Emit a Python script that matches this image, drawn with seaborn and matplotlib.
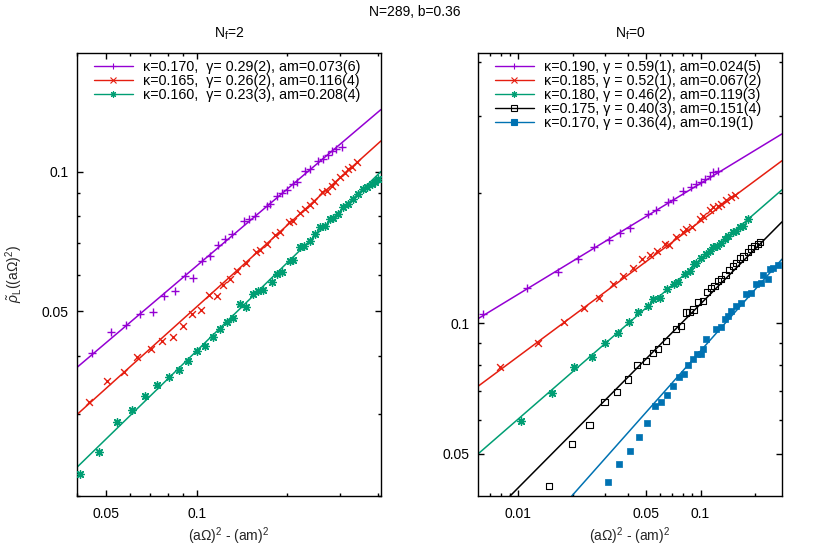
import numpy as np
import pandas as pd
import seaborn as sns
import matplotlib.pyplot as plt
from matplotlib.lines import Line2D
from matplotlib.ticker import NullFormatter

# ---- data ----
# N_f = 2
nf2_labels = ["κ=0.170,  γ= 0.29(2), am=0.073(6)",
              "κ=0.165,  γ= 0.26(2), am=0.116(4)",
              "κ=0.160,  γ= 0.23(3), am=0.208(4)"]

nf2_k170_x = [0.0448, 0.0520, 0.0583, 0.0648, 0.0716, 0.0779, 0.0847, 0.0915, 0.0974, 0.1044,
              0.1107, 0.1180, 0.1241, 0.1307, 0.1439, 0.1495, 0.1561, 0.1707, 0.1751, 0.1843,
              0.1915, 0.1989, 0.2083, 0.2148, 0.2288, 0.2377, 0.2533, 0.2632, 0.2734, 0.2805,
              0.2899, 0.3028]
nf2_k170_y = [0.0406, 0.0452, 0.0468, 0.0493, 0.0497, 0.0540, 0.0554, 0.0596, 0.0590, 0.0643,
              0.0659, 0.0694, 0.0715, 0.0733, 0.0781, 0.0792, 0.0800, 0.0843, 0.0850, 0.0886,
              0.0898, 0.0913, 0.0939, 0.0947, 0.1003, 0.1011, 0.1054, 0.1066, 0.1084, 0.1107,
              0.1117, 0.1132]

nf2_k165_x = [0.0437, 0.0503, 0.0571, 0.0635, 0.0704, 0.0769, 0.0832, 0.0899, 0.0963, 0.1031,
              0.1101, 0.1165, 0.1225, 0.1290, 0.1364, 0.1458, 0.1573, 0.1622, 0.1707, 0.1824,
              0.1890, 0.2030, 0.2093, 0.2202, 0.2288, 0.2377, 0.2451, 0.2599, 0.2701, 0.2805,
              0.2877, 0.2989, 0.3105, 0.3184, 0.3268, 0.3396]
nf2_k165_y = [0.0319, 0.0354, 0.0370, 0.0398, 0.0415, 0.0431, 0.0440, 0.0464, 0.0493, 0.0503,
              0.0543, 0.0540, 0.0570, 0.0587, 0.0611, 0.0635, 0.0670, 0.0677, 0.0698, 0.0730,
              0.0742, 0.0777, 0.0783, 0.0812, 0.0830, 0.0849, 0.0863, 0.0904, 0.0909, 0.0931,
              0.0947, 0.0971, 0.0995, 0.1011, 0.1023, 0.1046]

nf2_k160_x = [0.0408, 0.0473, 0.0543, 0.0608, 0.0674, 0.0740, 0.0809, 0.0874, 0.0938, 0.1005,
              0.1065, 0.1135, 0.1195, 0.1258, 0.1323, 0.1392, 0.1458, 0.1541, 0.1601, 0.1663,
              0.1774, 0.1843, 0.1915, 0.2040, 0.2093, 0.2202, 0.2271, 0.2377, 0.2470, 0.2566,
              0.2666, 0.2770, 0.2841, 0.2951, 0.3066, 0.3184, 0.3309, 0.3438, 0.3572, 0.3666,
              0.3809, 0.3906, 0.4006]
nf2_k160_y = [0.0223, 0.0249, 0.0288, 0.0306, 0.0328, 0.0347, 0.0361, 0.0373, 0.0390, 0.0411,
              0.0421, 0.0440, 0.0458, 0.0473, 0.0483, 0.0519, 0.0510, 0.0545, 0.0554, 0.0556,
              0.0579, 0.0601, 0.0608, 0.0643, 0.0646, 0.0686, 0.0692, 0.0709, 0.0733, 0.0758,
              0.0764, 0.0790, 0.0796, 0.0809, 0.0837, 0.0850, 0.0872, 0.0894, 0.0916, 0.0924,
              0.0939, 0.0947, 0.0963]

# fit lines (end points)
nf2_fit_x = [0.0401, 0.409]
nf2_fit_k170 = [0.0379, 0.136]
nf2_fit_k165 = [0.0300, 0.1164]
nf2_fit_k160 = [0.0231, 0.100]

# N_f = 0
nf0_labels = ["κ=0.190, γ = 0.59(1), am=0.024(5)",
              "κ=0.185, γ = 0.52(1), am=0.067(2)",
              "κ=0.180, γ = 0.46(2), am=0.119(3)",
              "κ=0.175, γ = 0.40(3), am=0.151(4)",
              "κ=0.170, γ = 0.36(4), am=0.19(1)"]

nf0_k190_x = [0.00637, 0.01116, 0.01644, 0.02118, 0.02616, 0.03135, 0.03634, 0.04109, 0.05133, 0.05708,
              0.06611, 0.07043, 0.07992, 0.0889, 0.0947, 0.1009, 0.1052, 0.1121, 0.1168, 0.1245]
nf0_k190_y = [0.1053, 0.1209, 0.1314, 0.1406, 0.1496, 0.1555, 0.1614, 0.1658, 0.1786, 0.1827,
              0.1907, 0.1924, 0.2021, 0.2058, 0.2095, 0.2114, 0.2151, 0.2189, 0.2229, 0.2249]

nf0_k185_x = [0.00793, 0.01288, 0.01789, 0.02285, 0.02787, 0.03297, 0.03742, 0.04246, 0.04783, 0.05246,
              0.05752, 0.06342, 0.06696, 0.07354, 0.07992, 0.08344, 0.09004, 0.09874, 0.1029, 0.1121,
              0.1168, 0.1245, 0.1299, 0.1384, 0.1475, 0.1538]
nf0_k185_y = [0.0794, 0.0902, 0.1009, 0.1087, 0.1146, 0.1231, 0.1286, 0.1345, 0.1406, 0.1436,
              0.1469, 0.1522, 0.1514, 0.1578, 0.1620, 0.1649, 0.1664, 0.1739, 0.1770, 0.1827,
              0.1851, 0.1866, 0.1884, 0.1927, 0.1952, 0.1976]

nf0_k180_x = [0.01035, 0.01532, 0.02031, 0.02535, 0.02995, 0.03543, 0.04036, 0.04524, 0.05133, 0.0547,
              0.06006, 0.06528, 0.07134, 0.07505, 0.08168, 0.08701, 0.09154, 0.0947, 0.1009, 0.1075,
              0.1121, 0.1168, 0.1236, 0.1299, 0.1355, 0.1413, 0.1505, 0.1571, 0.1638, 0.1708,
              0.1820]
nf0_k180_y = [0.0595, 0.0692, 0.0794, 0.0838, 0.0902, 0.0952, 0.1009, 0.1062, 0.1096, 0.1136,
              0.1146, 0.1198, 0.1231, 0.1246, 0.1298, 0.1321, 0.1369, 0.1381, 0.1418, 0.1443,
              0.1469, 0.1496, 0.1509, 0.1536, 0.1563, 0.1591, 0.1620, 0.1633, 0.1664, 0.1678,
              0.1739]

nf0_k175_x = [0.01467, 0.01963, 0.02455, 0.02969, 0.03467, 0.03985, 0.04467, 0.05005, 0.0547, 0.05826,
              0.06479, 0.07354, 0.07834, 0.08344, 0.08701, 0.09154, 0.09665, 0.1029, 0.1083, 0.1145,
              0.1194, 0.1245, 0.1299, 0.1372, 0.1430, 0.1505, 0.1571, 0.1652, 0.1723, 0.1820,
              0.1899, 0.1980, 0.2064, 0.2128]
nf0_k175_y = [0.0421, 0.0527, 0.0584, 0.0658, 0.0694, 0.0742, 0.0801, 0.0818, 0.0856, 0.0871,
              0.0910, 0.0972, 0.0986, 0.1059, 0.1062, 0.1077, 0.1120, 0.1126, 0.1181, 0.1209,
              0.1219, 0.1252, 0.1268, 0.1291, 0.1328, 0.1356, 0.1376, 0.1411, 0.1426, 0.1461,
              0.1488, 0.1509, 0.1522, 0.1541]

nf0_k170_x = [0.03095, 0.03589, 0.04109, 0.04581, 0.05095, 0.05588, 0.06083, 0.06561, 0.07043, 0.07571,
              0.08065, 0.08557, 0.09074, 0.09592, 0.1009, 0.1029, 0.1065, 0.1220, 0.1299, 0.1355,
              0.1413, 0.1475, 0.1571, 0.1674, 0.1783, 0.1899, 0.2023, 0.2156, 0.2199, 0.2343,
              0.2394, 0.2497, 0.2659]
nf0_k170_y = [0.0432, 0.0475, 0.0509, 0.0547, 0.0590, 0.0644, 0.0659, 0.0682, 0.0716, 0.0753,
              0.0765, 0.0801, 0.0826, 0.0848, 0.0848, 0.0871, 0.0918, 0.0969, 0.0983, 0.1021,
              0.1040, 0.1068, 0.1096, 0.1116, 0.1167, 0.1177, 0.1231, 0.1242, 0.1291, 0.1264,
              0.1333, 0.1345, 0.1361]

# fit lines (end points)
nf0_fit_k190 = ([0.006, 0.28], [0.1025, 0.2734])
nf0_fit_k185 = ([0.006, 0.28], [0.0716, 0.2371])
nf0_fit_k180 = ([0.006, 0.28], [0.0500, 0.2032])
nf0_fit_k175 = ([0.009, 0.28], [0.0400, 0.1714])
nf0_fit_k170 = ([0.01963, 0.28], [0.0400, 0.1406])

# ---- style ----
purple = "#9400d3"
red = "#e51e10"
green = "#009e73"
black = "#000000"
blue = "#0072b2"
asterisk = (8, 2, 0)

sns.set_theme(style="ticks")
plt.rcParams["font.family"] = ["Liberation Sans", "DejaVu Sans"]
plt.rcParams["mathtext.fontset"] = "custom"
plt.rcParams["mathtext.rm"] = "Liberation Sans"
plt.rcParams["mathtext.it"] = "Liberation Sans:italic"
plt.rcParams["font.size"] = 10
plt.rcParams["axes.linewidth"] = 1.0
plt.rcParams["axes.edgecolor"] = "black"
plt.rcParams["text.color"] = "black"
plt.rcParams["xtick.color"] = "black"
plt.rcParams["ytick.color"] = "black"

fig = plt.figure(figsize=(8.31, 5.55), dpi=100)
ax1 = fig.add_axes([77/831, 59/555, 304/831, 443/555])
ax2 = fig.add_axes([478/831, 59/555, 304/831, 443/555])

fig.text(415/831, 1 - 12/555, "N=289, b=0.36", ha="center", va="center", fontsize=10)


def draw(ax, x, y, fx, fy, color, marker, size, filled=True):
    sns.lineplot(x=fx, y=fy, color=color, lw=1.1, ax=ax)
    if marker == "s" and not filled:
        sns.scatterplot(x=x, y=y, color=color, marker="s", s=size, facecolor="none",
                        edgecolor=color, linewidth=0.8, ax=ax, zorder=3)
    elif marker == "s":
        sns.scatterplot(x=x, y=y, color=color, marker="s", s=size, edgecolor=color,
                        linewidth=0.5, ax=ax, zorder=3)
    else:
        sns.scatterplot(x=x, y=y, color=color, marker=marker, s=size, linewidth=1.0,
                        ax=ax, zorder=3)


# 左: N_f=2
draw(ax1, nf2_k170_x, nf2_k170_y, nf2_fit_x, nf2_fit_k170, purple, "+", 34)
draw(ax1, nf2_k165_x, nf2_k165_y, nf2_fit_x, nf2_fit_k165, red, "x", 24)
draw(ax1, nf2_k160_x, nf2_k160_y, nf2_fit_x, nf2_fit_k160, green, asterisk, 30)

# 右: N_f=0
draw(ax2, nf0_k190_x, nf0_k190_y, *nf0_fit_k190, purple, "+", 34)
draw(ax2, nf0_k185_x, nf0_k185_y, *nf0_fit_k185, red, "x", 24)
draw(ax2, nf0_k180_x, nf0_k180_y, *nf0_fit_k180, green, asterisk, 30)
draw(ax2, nf0_k175_x, nf0_k175_y, *nf0_fit_k175, black, "s", 20, filled=False)
draw(ax2, nf0_k170_x, nf0_k170_y, *nf0_fit_k170, blue, "s", 16)

for ax in (ax1, ax2):
    ax.set_xscale("log")
    ax.set_yscale("log")
    ax.tick_params(which="both", direction="in", top=True, right=True, width=1.0,
                   labelsize=10, pad=6)
    ax.tick_params(axis="x", which="major", pad=8)
    ax.tick_params(which="major", length=4.5)
    ax.tick_params(which="minor", length=2.5)
    ax.xaxis.set_minor_formatter(NullFormatter())
    ax.yaxis.set_minor_formatter(NullFormatter())
    ax.set_xlabel("(aΩ)$^2$ - (am)$^2$", fontsize=10, labelpad=3)
    for sp in ax.spines.values():
        sp.set_visible(True)

ax1.set_xlim(0.0401, 0.409)
ax1.set_ylim(0.02, 0.18)
ax1.set_xticks([0.05, 0.1])
ax1.set_xticklabels(["0.05", "0.1"])
ax1.set_xticks([0.04, 0.06, 0.07, 0.08, 0.09, 0.2, 0.3, 0.4], minor=True)
ax1.set_yticks([0.05, 0.1])
ax1.set_yticklabels(["0.05", "0.1"])
ax1.set_yticks([0.02, 0.03, 0.04, 0.06, 0.07, 0.08, 0.09], minor=True)
ax1.set_ylabel(r"$\tilde{\rho}_{\rm L}(\rm (a\Omega)^2)$", fontsize=10, labelpad=12)
ax1.set_title(r"N$_{\rm f}$=2", fontsize=10, pad=11)

ax2.set_xlim(0.006, 0.28)
ax2.set_ylim(0.04, 0.42)
ax2.set_xticks([0.01, 0.05, 0.1])
ax2.set_xticklabels(["0.01", "0.05", "0.1"])
ax2.set_xticks([0.007, 0.008, 0.009, 0.02, 0.03, 0.04, 0.06, 0.07, 0.08, 0.09, 0.2], minor=True)
ax2.set_yticks([0.05, 0.1])
ax2.set_yticklabels(["0.05", "0.1"])
ax2.set_yticks([0.06, 0.07, 0.08, 0.09, 0.2, 0.3, 0.4], minor=True)
ax2.set_ylabel("")
ax2.set_title(r"N$_{\rm f}$=0", fontsize=10, pad=11)

# 凡例
def handles(colors, markers):
    out = []
    for c, m in zip(colors, markers):
        if m == "so":
            out.append(Line2D([], [], color=c, lw=1.0, marker="s", markersize=4,
                              markerfacecolor="none", markeredgewidth=0.8))
        else:
            out.append(Line2D([], [], color=c, lw=1.0, marker=m, markersize=4.5,
                              markeredgewidth=0.8))
    return out

leg_kw = dict(loc="upper left", bbox_transform=fig.transFigure, frameon=False,
              fontsize=10.3, borderpad=0, borderaxespad=0, handlelength=2.7,
              handletextpad=0.7, labelspacing=0.0, numpoints=1)
ax1.legend(handles([purple, red, green], ["+", "x", asterisk]), nf2_labels,
           bbox_to_anchor=(94/831, 1 - 60/555), **leg_kw)
ax2.legend(handles([purple, red, green, black, blue], ["+", "x", asterisk, "so", "s"]),
           nf0_labels, bbox_to_anchor=(495/831, 1 - 60/555), **leg_kw)

plt.savefig("out.png", dpi=100)
plt.close()
